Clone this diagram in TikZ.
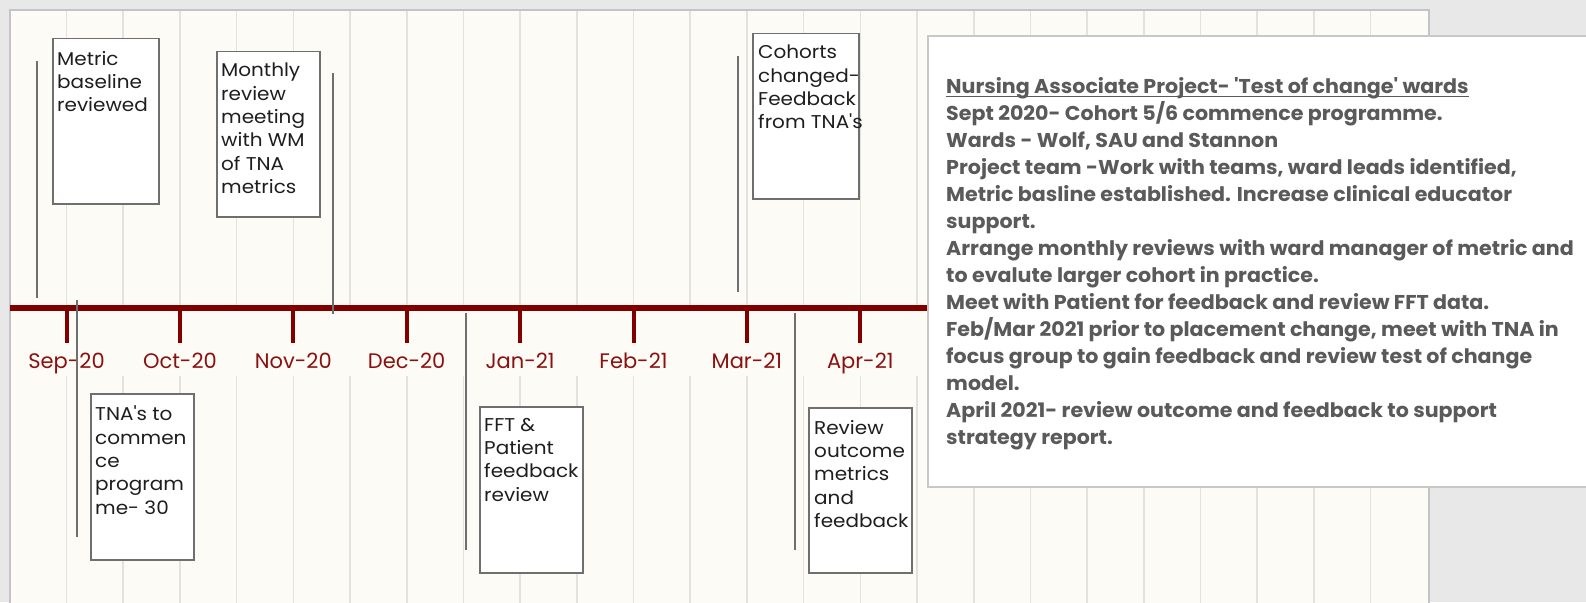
\documentclass[tikz,border=0pt]{standalone}
\usepackage{fontspec}
\setmainfont{Poppins}
\newfontfamily\evfont[FakeStretch=1.08]{Poppins}
\newfontfamily\notefont[FakeStretch=1.03]{Poppins}
\definecolor{outerbg}{HTML}{E8E8E8}
\definecolor{cream}{HTML}{FDFBF5}
\definecolor{gridc}{HTML}{E4E2DE}
\definecolor{axisred}{HTML}{800000}
\definecolor{labelred}{HTML}{8B1010}
\definecolor{leaderc}{HTML}{6F6F6F}
\definecolor{evborder}{HTML}{6F6F6F}
\definecolor{evtextc}{HTML}{1E1E1E}
\definecolor{notetextc}{HTML}{5A5A5A}
\definecolor{noteborder}{HTML}{C8C8C8}
\definecolor{chartborder}{HTML}{C4C4C4}
\tikzset{
  gridline/.style={draw=gridc, line width=1.6pt},
  axisline/.style={draw=axisred, line width=6pt},
  tickline/.style={draw=axisred, line width=4pt},
  monthlabel/.style={font=\fontsize{21}{24}\selectfont, text=labelred, inner sep=0pt, anchor=base},
  leaderline/.style={draw=leaderc, line width=1.5pt},
  evbox/.style={draw=evborder, fill=white, line width=1.5pt, anchor=north west, inner sep=0pt},
  evtext/.style={font=\evfont\fontsize{18.5}{23.3}\selectfont, text=evtextc, align=left, inner sep=0pt, anchor=north west},
  notebox/.style={draw=noteborder, fill=white, line width=1.8pt, anchor=north west, inner sep=0pt},
  notetext/.style={font=\notefont\fontsize{20}{27}\selectfont\bfseries, text=notetextc, inner sep=0pt, anchor=base west},
}
\begin{document}
\begin{tikzpicture}[x=1pt,y=-1pt]
\useasboundingbox (0,0) rectangle (1586,602);
\clip (0,0) rectangle (1586,602);
% backgrounds
\fill[outerbg] (0,0) rectangle (1586,602);
\fill[cream] (10,10) rectangle (1429,620);
\draw[chartborder, line width=1.6pt] (10,620) -- (10,10) -- (1429,10) -- (1429,620);
% grid lines
\foreach \k in {0,...,23}{
  \draw[gridline] ({66.5+56.7*\k},11) -- ({66.5+56.7*\k},305);
  \draw[gridline] ({66.5+56.7*\k},376) -- ({66.5+56.7*\k},620);
}
% axis
\coordinate (axl) at (10,308);
\coordinate (axr) at (928,308);
\draw[axisline] (axl) -- (axr);
\foreach \m/\lab in {0/Sep-20,1/Oct-20,2/Nov-20,3/Dec-20,4/Jan-21,5/Feb-21,6/Mar-21,7/Apr-21}{
  \coordinate (tk\m a) at ({66.5+113.4*\m},308);
  \coordinate (tk\m b) at ({66.5+113.4*\m},343);
  \draw[tickline] (tk\m a) -- (tk\m b);
  \node[monthlabel] (ml\m) at ({66.5+113.4*\m},368) {\lab};
}
% leader lines
\coordinate (l1a) at (37,61);   \coordinate (l1b) at (37,298);
\coordinate (l2a) at (333,73);  \coordinate (l2b) at (333,314);
\coordinate (l3a) at (77,300);  \coordinate (l3b) at (77,537);
\coordinate (l4a) at (466,313); \coordinate (l4b) at (466,550);
\coordinate (l5a) at (795,313); \coordinate (l5b) at (795,550);
\coordinate (l6a) at (738,56);  \coordinate (l6b) at (738,292);
\foreach \i in {1,...,6}{\draw[leaderline] (l\i a) -- (l\i b);}
% event boxes
\node[evbox, minimum width=106pt, minimum height=165pt] (b1) at (52,38) {};
\node[evtext] (t1) at (57,51) {Metric\\baseline\\reviewed};
\node[evbox, minimum width=103pt, minimum height=165pt] (b2) at (216,51) {};
\node[evtext] (t2) at (221,63) {Monthly\\review\\meeting\\with WM\\of TNA\\metrics};
\node[evbox, minimum width=103pt, minimum height=166pt] (b3) at (90,393) {};
\node[evtext] (t3) at (95,406) {TNA's to\\commen\\ce\\program\\me- 30};
\node[evbox, minimum width=103pt, minimum height=166pt] (b4) at (479,406) {};
\node[evtext] (t4) at (484,418) {FFT \&\\Patient\\feedback\\review};
\node[evbox, minimum width=103pt, minimum height=165pt] (b5) at (808,407) {};
\node[evtext] (t5) at (814,420) {Review\\outcome\\metrics\\and\\feedback};
\node[evbox, minimum width=106pt, minimum height=165pt] (b6) at (752,33) {};
\node[evtext] (t6) at (758,45) {Cohorts\\changed-\\Feedback\\from TNA's};
% note box
\node[notebox, minimum width=700pt, minimum height=451pt] (nb) at (927,35) {};
\node[notetext] (nt) at (946,93) {Nursing Associate Project- 'Test of change' wards};
\draw[notetextc, line width=1.2pt] ([yshift=-3.5pt]nt.base west) -- ([yshift=-3.5pt]nt.base east);
\foreach \i/\ln in {
 1/{Sept 2020- Cohort 5/6 commence programme.},
 2/{Wards -  Wolf, SAU and Stannon},
 3/{Project team -Work with teams, ward leads identified,},
 4/{Metric basline established. Increase clinical educator},
 5/{support.},
 6/{Arrange monthly reviews with ward manager of metric and},
 7/{to evalute larger cohort in practice.},
 8/{Meet with Patient for feedback and review FFT data.},
 9/{Feb/Mar 2021 prior to placement change, meet with TNA in},
 10/{focus group to gain feedback and review test of change},
 11/{model.},
 12/{April 2021- review outcome and feedback to support},
 13/{strategy report.}}{
  \node[notetext] (nl\i) at (946,{93+27*\i}) {\ln};
}
\end{tikzpicture}
\end{document}
